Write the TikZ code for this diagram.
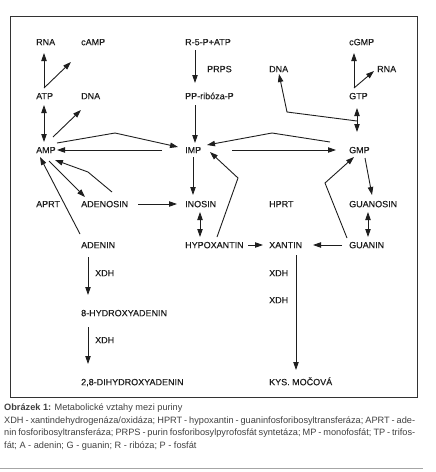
\documentclass[tikz,border=0pt]{standalone}
\usepackage{fontspec}
\setmainfont{Liberation Sans}
\newfontfamily\lblfont[FakeBold=0.35]{Liberation Sans}
\usetikzlibrary{calc,arrows.meta}
\definecolor{ink}{HTML}{1E1E1E}
\tikzset{
  lbl/.style={anchor=west,inner sep=0pt,text height=6.4pt,text depth=0pt,text=ink,font=\lblfont\fontsize{9}{10}\selectfont},
  arr/.style={line width=0.9pt,draw=ink,-{Triangle[length=8pt,width=5.4pt]}},
  darr/.style={line width=0.9pt,draw=ink,{Triangle[length=8pt,width=5.4pt]}-{Triangle[length=8pt,width=5.4pt]}},
  captxt/.style={anchor=base west,inner sep=0pt,text=ink!85,font=\fontsize{9.2}{12}\selectfont}
}
\begin{document}
\begin{tikzpicture}[x=1pt,y=-1pt]
\useasboundingbox (0,0) rectangle (436,472);
\draw[line width=1pt,black!80] (10,16) rectangle (417,397);
% nodes
\node[lbl] (rna) at (36,42) {RNA};
\node[lbl] (camp) at (81,42) {cAMP};
\node[lbl] (r5p) at (185,42) {R-5-P+ATP};
\node[lbl] (cgmp) at (349,42) {cGMP};
\node[lbl] (prps) at (207,69) {PRPS};
\node[lbl] (dnar) at (269,69) {DNA};
\node[lbl] (rnar) at (377,69) {RNA};
\node[lbl] (atp) at (36,96) {ATP};
\node[lbl] (dnal) at (81,96) {DNA};
\node[lbl] (pp) at (185,96) {PP-ribóza-P};
\node[lbl] (gtp) at (349,96) {GTP};
\node[lbl] (amp) at (36,150) {AMP};
\node[lbl] (imp) at (185,150) {IMP};
\node[lbl] (gmp) at (349,150) {GMP};
\node[lbl] (aprt) at (36,204) {APRT};
\node[lbl] (adenosin) at (81,204) {ADENOSIN};
\node[lbl] (inosin) at (185,204) {INOSIN};
\node[lbl] (hprt) at (269,204) {HPRT};
\node[lbl] (guanosin) at (349,204) {GUANOSIN};
\node[lbl] (adenin) at (81,245) {ADENIN};
\node[lbl] (hypox) at (185,245) {HYPOXANTIN};
\node[lbl] (xantin) at (269,245) {XANTIN};
\node[lbl] (guanin) at (349,245) {GUANIN};
\node[lbl] (xdha) at (95,273) {XDH};
\node[lbl] (xdhc) at (269,273) {XDH};
\node[lbl] (xdhd) at (269,300) {XDH};
\node[lbl] (hyd) at (81,313) {8-HYDROXYADENIN};
\node[lbl] (xdhb) at (95,340) {XDH};
\node[lbl] (dihyd) at (81,382) {2,8-DIHYDROXYADENIN};
\node[lbl] (kys) at (269,382) {KYS. MOČOVÁ};
% connectors
\draw[arr] ($(atp.west)+(8,-8)$) -- ($(rna.west)+(8,11)$);
\draw[arr] ($(atp.west)+(8,-8)$) -- ($(camp.west)+(-10,20)$);
\draw[darr] ($(atp.west)+(8,9)$) -- ($(amp.west)+(8,-8)$);
\draw[arr] ($(amp.west)+(17,-13)$) -- ($(dnal.west)+(0,14)$);
\draw[arr] ($(amp.west)+(21,-7)$) -- (115,133) -- ($(imp.west)+(-7,-3)$);
\draw[arr] ($(imp.west)+(-23,0)$) -- ($(amp.west)+(21,0)$);
\draw[arr] ($(amp.west)+(13,11)$) -- ($(adenosin.west)+(4,-7)$);
\draw[arr] ($(adenosin.west)+(31,-12)$) -- (88,172) -- ($(amp.west)+(19,10)$);
\draw[arr] ($(adenin.west)+(-1,-11)$) -- ($(amp.west)+(4,7)$);
\draw[arr] ($(adenosin.west)+(57,0)$) -- ($(inosin.west)+(-8,0)$);
\draw[arr] ($(r5p.west)+(10,8)$) -- ($(pp.west)+(10,-13)$);
\draw[arr] ($(pp.west)+(10,9)$) -- ($(imp.west)+(10,-7)$);
\draw[arr] ($(imp.west)+(8,7)$) -- ($(inosin.west)+(8,-9)$);
\draw[darr] ($(inosin.west)+(15,8)$) -- ($(hypox.west)+(15,-8)$);
\draw[arr] ($(hypox.west)+(32,-8)$) -- (238,178) -- ($(imp.west)+(25,2)$);
\draw[arr] ($(gmp.west)+(-19,-8)$) -- (272,133) -- ($(imp.west)+(22,-5)$);
\draw[arr] ($(imp.west)+(47,0)$) -- ($(gmp.west)+(-13,0)$);
\draw[arr] ($(guanin.west)+(-2,-7)$) -- (325,183) -- ($(gmp.west)+(5,7)$);
\draw[arr] ($(gmp.west)+(16,8)$) -- ($(guanosin.west)+(23,-9)$);
\draw[darr] ($(guanosin.west)+(19,8)$) -- ($(guanin.west)+(19,-8)$);
\draw[arr] ($(guanin.west)+(-7,0)$) -- ($(xantin.west)+(44,0)$);
\draw[arr] ($(hypox.west)+(63,0)$) -- ($(xantin.west)+(-6,0)$);
\draw[darr] ($(gtp.west)+(8,12)$) -- ($(gmp.west)+(8,-18)$);
\draw[arr] ($(gmp.west)+(8,-29)$) -- (287,112) -- ($(dnar.west)+(10,5)$);
\draw[arr] ($(gtp.west)+(5,-8)$) -- ($(cgmp.west)+(5,11)$);
\draw[arr] ($(gtp.west)+(5,-8)$) -- ($(rnar.west)+(-3,2)$);
\draw[arr] ($(adenin.west)+(7,12)$) -- ($(hyd.west)+(7,-18)$);
\draw[arr] ($(hyd.west)+(7,14)$) -- ($(dihyd.west)+(7,-18)$);
\draw[arr] ($(xantin.west)+(27,10)$) -- ($(kys.west)+(27,-12)$);
% caption
\node[captxt] (c1) at (4,410) {\textbf{Obrázek 1:} Metabolické vztahy mezi puriny};
\node[captxt] (c2) at (4,423) {\hbox to 411pt{XDH - xantindehydrogenáza/oxidáza; HPRT - hypoxantin - guaninfosforibosyltransferáza; APRT - ade-}};
\node[captxt] (c3) at (4,435.5) {\hbox to 411pt{nin fosforibosyltransferáza; PRPS - purin fosforibosylpyrofosfát syntetáza; MP - monofosfát; TP - trifos-}};
\node[captxt] (c4) at (4,448) {fát; A - adenin; G - guanin; R - ribóza; P - fosfát};
\draw[black!35,line width=0.8pt] (0,468) -- (423,468);
\end{tikzpicture}
\end{document}
